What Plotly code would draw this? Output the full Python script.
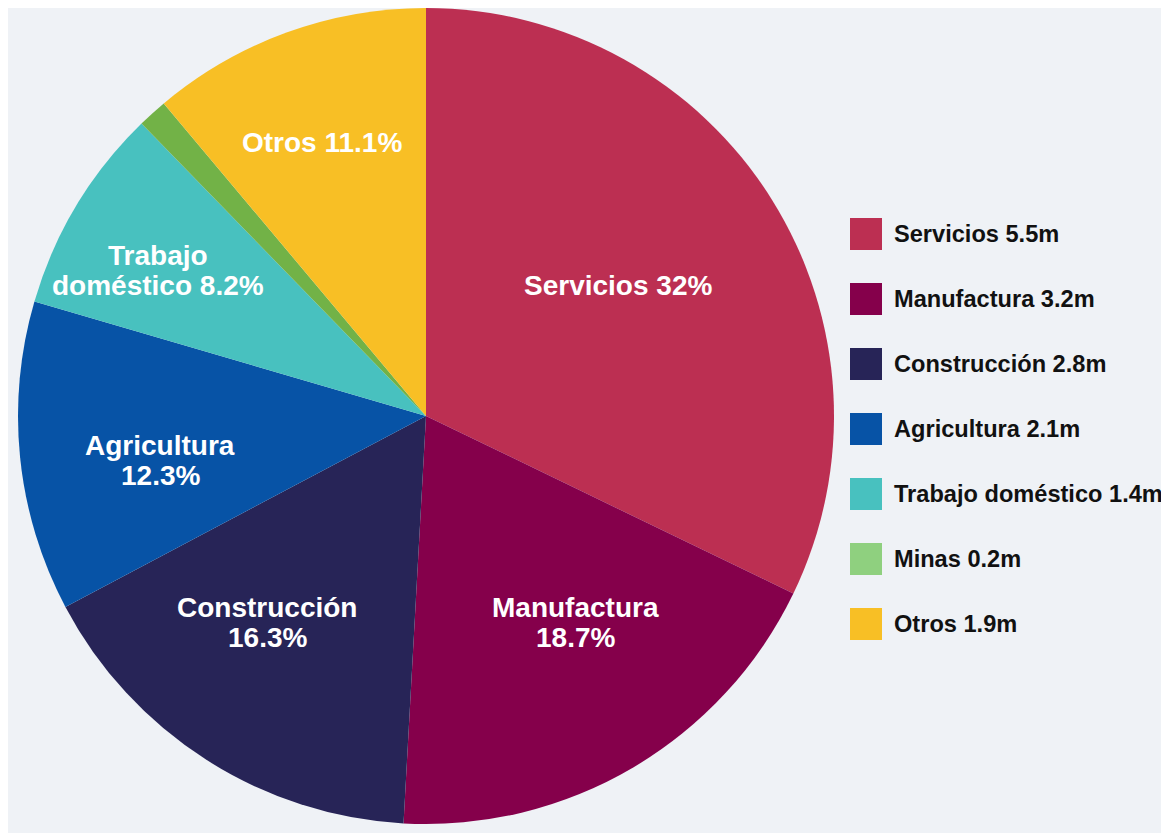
import plotly.graph_objects as go

categories = ["Servicios", "Manufactura", "Construcción", "Agricultura",
              "Trabajo doméstico", "Minas", "Otros"]
values_m = [5.5, 3.2, 2.8, 2.1, 1.4, 0.2, 1.9]
slice_labels = ["Servicios 32%", "Manufactura<br>18.7%", "Construcción<br>16.3%",
                "Agricultura<br>12.3%", "Trabajo<br>doméstico 8.2%", "", "Otros 11.1%"]
slice_colors = ["#bc2f52", "#85004b", "#272457", "#0753a6", "#48c1bf", "#72b247", "#f8bf25"]
legend_colors = ["#bc2f52", "#85004b", "#272457", "#0753a6", "#48c1bf", "#8fd07f", "#f8bf25"]

W, H = 1169, 833
cx, cy, r = 418, 408, 408
bg = "#eff2f6"
FONT = "Liberation Sans, Arial, sans-serif"

# label anchor points (pixel centres of each label block) inside the slices
label_pos = [(610, 277), (567, 614), (259, 614), (152, 452), (150, 262), None, (314, 135)]
line_gap = 30

fig = go.Figure(go.Pie(
    labels=categories,
    values=values_m,
    textinfo="none",
    sort=False,
    direction="clockwise",
    rotation=0,
    marker=dict(colors=slice_colors, line=dict(width=0)),
    hoverinfo="label+value",
    domain=dict(x=[max(0, (cx - r) / W), min(1, (cx + r) / W)],
                y=[max(0, (H - cy - r) / H), min(1, (H - cy + r) / H)]),
    showlegend=False,
))

shapes = []
annotations = []

for lab, pos in zip(slice_labels, label_pos):
    if not lab or pos is None:
        continue
    lines = lab.split("<br>")
    n = len(lines)
    for j, ln in enumerate(lines):
        yy = pos[1] + (j - (n - 1) / 2) * line_gap
        annotations.append(dict(xref="paper", yref="paper", x=pos[0] / W, y=1 - yy / H,
                                xanchor="center", yanchor="middle", showarrow=False,
                                text=f"<b>{ln}</b>",
                                font=dict(family=FONT, size=28, color="white")))

x0, y_first, step, sq = 842, 210, 65, 32
for i, (cat, v) in enumerate(zip(categories, values_m)):
    top = y_first + i * step
    shapes.append(dict(type="rect", xref="paper", yref="paper",
                       x0=x0 / W, x1=(x0 + sq) / W,
                       y0=1 - (top + sq) / H, y1=1 - top / H,
                       fillcolor=legend_colors[i], line=dict(width=0)))
    annotations.append(dict(xref="paper", yref="paper", x=884 / W, y=1 - (top + sq / 2) / H,
                            xanchor="left", yanchor="middle", showarrow=False,
                            text=f"<b>{cat} {v}m</b>",
                            font=dict(family=FONT, size=23.6, color="#111111")))

fig.update_layout(
    width=W, height=H,
    margin=dict(l=0, r=0, t=0, b=0),
    paper_bgcolor=bg, plot_bgcolor=bg,
    shapes=shapes, annotations=annotations,
)
fig.write_html("out.html")
